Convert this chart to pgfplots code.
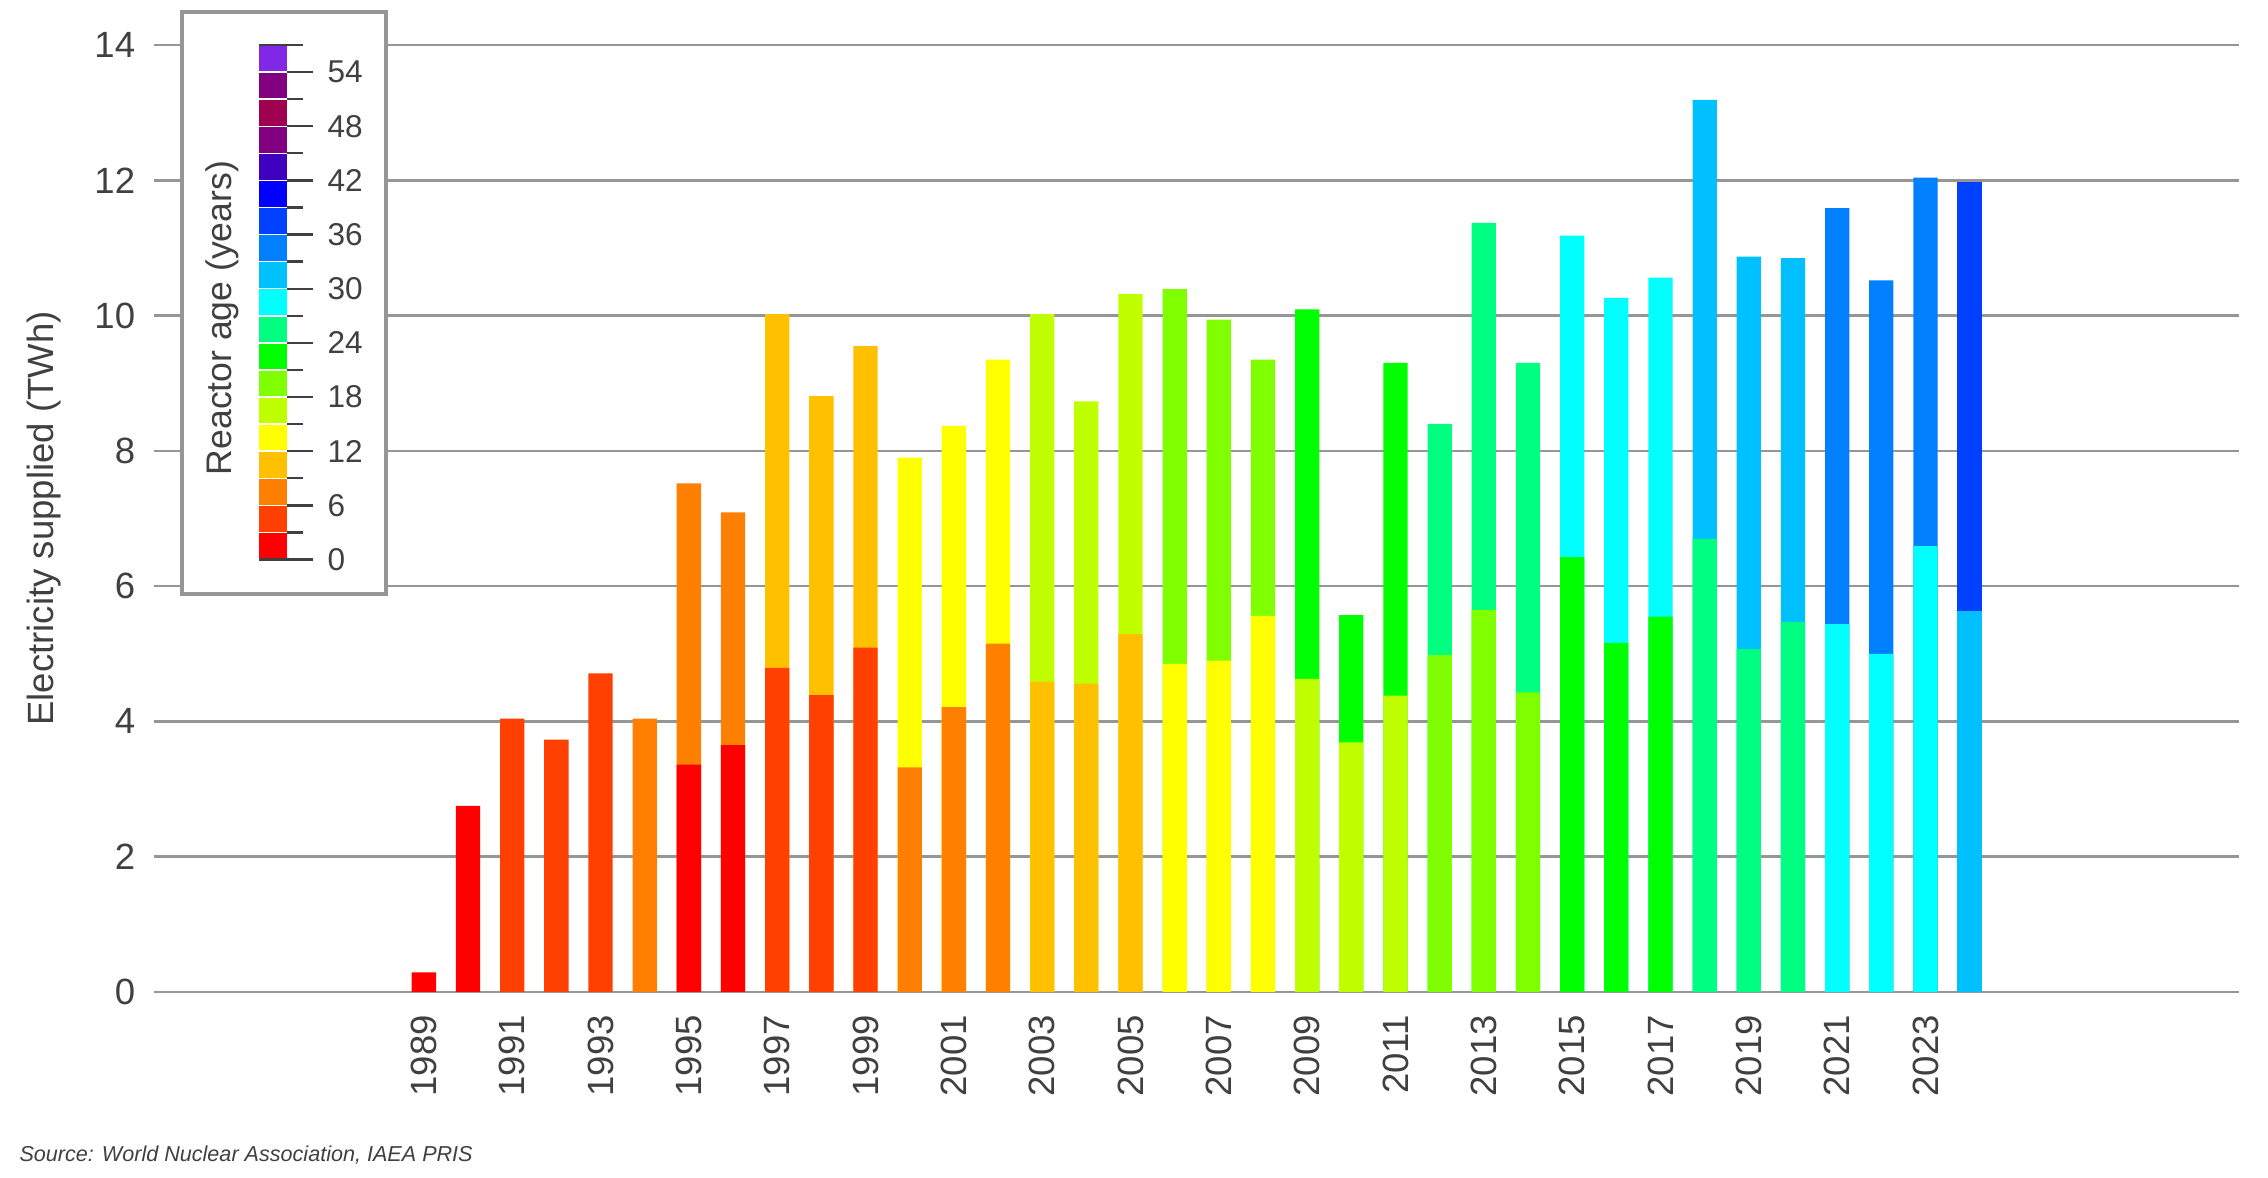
\documentclass[border=0pt]{standalone}
\usepackage{pgfplots}
\pgfplotsset{compat=1.18}
\usepackage{fontspec}
\setmainfont{Liberation Sans}

% reactor age colours, one per 3-year band
\definecolor{c0}{RGB}{255,0,0}
\definecolor{c3}{RGB}{255,64,0}
\definecolor{c6}{RGB}{255,128,0}
\definecolor{c9}{RGB}{255,192,0}
\definecolor{c12}{RGB}{255,255,0}
\definecolor{c15}{RGB}{192,255,0}
\definecolor{c18}{RGB}{128,255,0}
\definecolor{c21}{RGB}{0,255,0}
\definecolor{c24}{RGB}{0,255,128}
\definecolor{c27}{RGB}{0,255,255}
\definecolor{c30}{RGB}{0,192,255}
\definecolor{c33}{RGB}{0,128,255}
\definecolor{c36}{RGB}{0,64,255}
\definecolor{c39}{RGB}{0,0,255}
\definecolor{c42}{RGB}{64,0,192}
\definecolor{c45}{RGB}{128,0,128}
\definecolor{c48}{RGB}{160,0,80}
\definecolor{c51}{RGB}{128,0,128}
\definecolor{c54}{RGB}{128,40,230}
\definecolor{txt}{RGB}{64,64,64}
\definecolor{gridc}{RGB}{150,150,150}

\pgfplotsset{agebar/.style={ybar, bar width=0.55, bar shift=0pt, draw=none}}

\begin{document}
\begin{tikzpicture}
\useasboundingbox (0,0) rectangle (24cm,12.455cm);

\begin{axis}[
  at={(1.630cm,1.958cm)}, anchor=south west,
  scale only axis, width=22.063cm, height=10.021cm,
  xmin=1982.89, xmax=2030.1, ymin=0, ymax=14,
  axis line style={draw=none},
  tick style={draw=none},
  ytick={0,2,...,14},
  xtick={1989,1991,...,2023},
  ymajorgrids,
  grid style={gridc, line width=0.8pt},
  /pgf/number format/assume math mode=true,
  /pgf/number format/1000 sep={},
  tick label style={font=\fontsize{11}{13}\selectfont, text=txt},
  xticklabel style={rotate=90, anchor=east},
  xticklabel shift=0.12cm,
  yticklabel shift=0.076cm,
  ylabel={Electricity supplied (TWh)},
  ylabel style={at={(axis description cs:-0.04845,0.5)}, anchor=base,
    font=\fontsize{11}{13}\selectfont, text=txt},
]
% total height of each year, in the colour of the older reactor's age
\addplot[agebar, fill=c0] coordinates {(1989,0.29) (1990,2.75)};
\addplot[agebar, fill=c3] coordinates {(1991,4.04) (1992,3.73) (1993,4.71)};
\addplot[agebar, fill=c6] coordinates {(1994,4.04) (1995,7.52) (1996,7.09)};
\addplot[agebar, fill=c9] coordinates {(1997,10.02) (1998,8.81) (1999,9.55)};
\addplot[agebar, fill=c12] coordinates {(2000,7.90) (2001,8.37) (2002,9.35)};
\addplot[agebar, fill=c15] coordinates {(2003,10.02) (2004,8.73) (2005,10.32)};
\addplot[agebar, fill=c18] coordinates {(2006,10.39) (2007,9.94) (2008,9.35)};
\addplot[agebar, fill=c21] coordinates {(2009,10.09) (2010,5.57) (2011,9.30)};
\addplot[agebar, fill=c24] coordinates {(2012,8.40) (2013,11.37) (2014,9.30)};
\addplot[agebar, fill=c27] coordinates {(2015,11.18) (2016,10.26) (2017,10.56)};
\addplot[agebar, fill=c30] coordinates {(2018,13.19) (2019,10.87) (2020,10.85)};
\addplot[agebar, fill=c33] coordinates {(2021,11.59) (2022,10.52) (2023,12.04)};
\addplot[agebar, fill=c36] coordinates {(2024,11.97)};
% lower segment: the younger reactor
\addplot[agebar, fill=c0] coordinates {(1995,3.36) (1996,3.65)};
\addplot[agebar, fill=c3] coordinates {(1997,4.79) (1998,4.39) (1999,5.09)};
\addplot[agebar, fill=c6] coordinates {(2000,3.32) (2001,4.21) (2002,5.15)};
\addplot[agebar, fill=c9] coordinates {(2003,4.59) (2004,4.56) (2005,5.29)};
\addplot[agebar, fill=c12] coordinates {(2006,4.85) (2007,4.90) (2008,5.56)};
\addplot[agebar, fill=c15] coordinates {(2009,4.63) (2010,3.69) (2011,4.38)};
\addplot[agebar, fill=c18] coordinates {(2012,4.98) (2013,5.65) (2014,4.43)};
\addplot[agebar, fill=c21] coordinates {(2015,6.43) (2016,5.16) (2017,5.55)};
\addplot[agebar, fill=c24] coordinates {(2018,6.70) (2019,5.07) (2020,5.47)};
\addplot[agebar, fill=c27] coordinates {(2021,5.44) (2022,5.00) (2023,6.59)};
\addplot[agebar, fill=c30] coordinates {(2024,5.63)};
\end{axis}

% colour key
\draw[gridc, line width=1pt, fill=white] (1.926cm,6.169cm) rectangle (4.085cm,12.328cm);
\node[rotate=90, anchor=base, font=\fontsize{10.7}{12}\selectfont, text=txt]
  at (2.452cm,9.090cm) {Reactor age (years)};

\begin{axis}[
  at={(2.741cm,6.534cm)}, anchor=south west,
  scale only axis, width=0.296cm, height=5.445cm,
  xmin=0, xmax=1, ymin=0, ymax=57,
  hide x axis,
  axis line style={draw=none},
  ytick={0,6,...,54}, minor ytick={3,9,...,57},
  ytick pos=right, yticklabel pos=right,
  tick align=outside,
  major tick length=0.275cm, minor tick length=0.17cm,
  every tick/.style={txt, line width=0.7pt},
  /pgf/number format/assume math mode=true,
  yticklabel style={font=\fontsize{9.5}{11}\selectfont, text=txt},
  yticklabel shift=0.03cm,
  clip=false,
]
\addplot[fill=c0, draw=none] coordinates {(0,0.08) (1,0.08) (1,2.92) (0,2.92)};
\addplot[fill=c3, draw=none] coordinates {(0,3.08) (1,3.08) (1,5.92) (0,5.92)};
\addplot[fill=c6, draw=none] coordinates {(0,6.08) (1,6.08) (1,8.92) (0,8.92)};
\addplot[fill=c9, draw=none] coordinates {(0,9.08) (1,9.08) (1,11.92) (0,11.92)};
\addplot[fill=c12, draw=none] coordinates {(0,12.08) (1,12.08) (1,14.92) (0,14.92)};
\addplot[fill=c15, draw=none] coordinates {(0,15.08) (1,15.08) (1,17.92) (0,17.92)};
\addplot[fill=c18, draw=none] coordinates {(0,18.08) (1,18.08) (1,20.92) (0,20.92)};
\addplot[fill=c21, draw=none] coordinates {(0,21.08) (1,21.08) (1,23.92) (0,23.92)};
\addplot[fill=c24, draw=none] coordinates {(0,24.08) (1,24.08) (1,26.92) (0,26.92)};
\addplot[fill=c27, draw=none] coordinates {(0,27.08) (1,27.08) (1,29.92) (0,29.92)};
\addplot[fill=c30, draw=none] coordinates {(0,30.08) (1,30.08) (1,32.92) (0,32.92)};
\addplot[fill=c33, draw=none] coordinates {(0,33.08) (1,33.08) (1,35.92) (0,35.92)};
\addplot[fill=c36, draw=none] coordinates {(0,36.08) (1,36.08) (1,38.92) (0,38.92)};
\addplot[fill=c39, draw=none] coordinates {(0,39.08) (1,39.08) (1,41.92) (0,41.92)};
\addplot[fill=c42, draw=none] coordinates {(0,42.08) (1,42.08) (1,44.92) (0,44.92)};
\addplot[fill=c45, draw=none] coordinates {(0,45.08) (1,45.08) (1,47.92) (0,47.92)};
\addplot[fill=c48, draw=none] coordinates {(0,48.08) (1,48.08) (1,50.92) (0,50.92)};
\addplot[fill=c51, draw=none] coordinates {(0,51.08) (1,51.08) (1,53.92) (0,53.92)};
\addplot[fill=c54, draw=none] coordinates {(0,54.08) (1,54.08) (1,56.92) (0,56.92)};
\addplot[txt, line width=0.7pt] coordinates {(0,0) (1,0)};
\addplot[txt, line width=0.7pt] coordinates {(0,57) (1,57)};
\end{axis}

\node[anchor=base west, font=\fontsize{6.5}{8}\selectfont\itshape, text=txt, inner sep=0pt]
  at (0.2cm,0.159cm) {Source: World Nuclear Association, IAEA PRIS};
\end{tikzpicture}
\end{document}
